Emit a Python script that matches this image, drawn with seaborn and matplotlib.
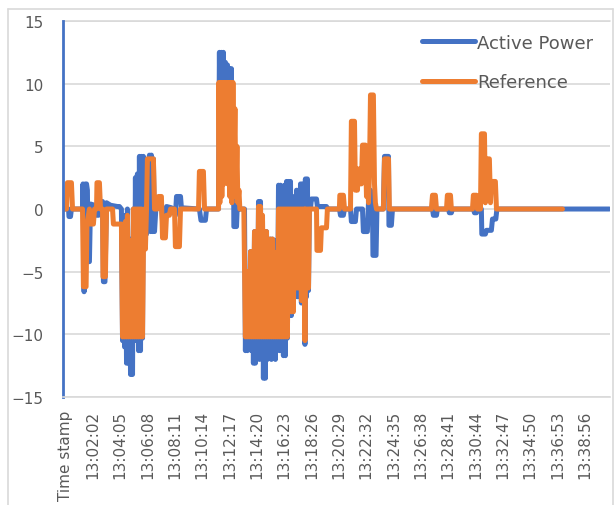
import numpy as np
import pandas as pd
import matplotlib
matplotlib.use("Agg")
import matplotlib.pyplot as plt
import matplotlib.transforms as mtransforms
from matplotlib.lines import Line2D
import seaborn as sns

# ---------------------------------------------------------------------------
# data: sample index (1 sample per second, category 0 = header row)
# ---------------------------------------------------------------------------
tick_labels = ["Time stamp", "13:02:02", "13:04:05", "13:06:08", "13:08:11",
               "13:10:14", "13:12:17", "13:14:20", "13:16:23", "13:18:26",
               "13:20:29", "13:22:32", "13:24:35", "13:26:38", "13:28:41",
               "13:30:44", "13:32:47", "13:34:50", "13:36:53", "13:38:56"]
tick_step = 123

ref_t = [0, 16, 20, 38, 43, 88, 92, 104, 108, 119, 124, 137, 142, 151, 153, 164,
         169, 178, 180, 191, 196, 223, 227, 263,
         268, 272, 277, 281, 286, 290, 295, 299, 304, 308, 313, 317, 322, 326,
         331, 335, 340, 344, 349, 353, 358, 362, 367, 371, 376, 380, 407, 412,
         425, 430, 443, 448, 461, 466, 479, 484, 502, 506, 524, 529, 610, 614,
         632, 637, 700,
         702, 706, 711, 715, 720, 724, 729, 733, 738, 742, 747, 751, 756, 760,
         765, 769, 774, 778, 783, 787, 792, 796, 814,
         821, 826, 830, 835, 839, 844, 848, 853, 857, 862, 866, 871, 875, 880,
         884, 889, 893, 898, 902, 907, 911, 916, 920, 925, 929, 934, 938, 943,
         947, 952, 956, 961, 965, 970, 974, 979, 983, 988, 992, 997, 1001, 1006,
         1010, 1015, 1019, 1024, 1028, 1033, 1037, 1042, 1046, 1051, 1055, 1060,
         1064, 1069, 1073, 1078, 1082, 1087, 1089, 1091, 1096, 1100, 1105, 1109,
         1141, 1143, 1159, 1163, 1186, 1190, 1244, 1246, 1262, 1267,
         1294, 1298, 1312, 1316, 1321, 1325, 1330, 1334, 1339, 1343, 1348, 1361,
         1366, 1370, 1375, 1379, 1384, 1397, 1402, 1406, 1411,
         1442, 1447, 1465, 1469, 1658, 1663, 1676, 1681, 1726, 1730, 1744, 1748,
         1843, 1847, 1861, 1865, 1879, 1883, 1897, 1901, 1906, 1919, 1924, 1928,
         1946, 1951, 2248]
ref_v = [0, 0, 2.1, 2.1, 0, 0, -6.2, -6.2, -1.2, 0, -1.2, -1.2, 0, 0, 2.1, 2.1,
         0, 0, -5.4, -5.4, 0, 0, -1.2, -1.2,
         -10.2, -1.5, -10.2, -1.0, -10.2, -0.5, -10.2, -3.0, -10.2, -2.5, -10.2, 0, -10.2, 0,
         -10.2, 0, -10.2, 0, -10.2, 0, -10.2, -3.2, 0, -3.2, 0, 4.0, 4.0, 0,
         0, 1.0, 1.0, -2.3, -2.3, -0.5, -0.5, 0, 0, -3.0, -3.0, 0, 0, 3.0,
         3.0, 0, 0,
         10.1, 0.5, 10.1, 1.0, 10.1, 2.0, 10.1, 3.0, 10.1, 2.0, 10.1, 1.0, 10.1, 0.5,
         10.1, 3.0, 8.0, 1.0, 5.0, 0.5, 1.5, 0, 0,
         -10.2, -5.0, -10.2, -5.0, -10.2, -3.4, -10.2, -3.4, -10.2, -1.8, -10.2, -1.8, -10.2, 0.2,
         -10.2, 0.2, -10.2, -0.5, -10.2, -1.8, -10.2, -1.8, -10.2, -2.4, -10.2, -2.4, -10.2, -2.4,
         -10.2, -3.5, -10.2, -3.5, -10.2, 0, -10.2, 0, -10.2, 0, -10.2, 0, -10.2, 0,
         -10.2, 0, -8.2, 0, -8.2, 0, -8.2, 0, -6.3, 0, -6.3, 0,
         -6.3, 0, -7.3, 0, -7.3, 0, -10.5, 0, -6.3, 0, -6.3, 0,
         0, -3.3, -3.3, -1.5, -1.5, 0, 0, 1.1, 1.1, 0,
         0, 7.0, 7.0, 1.5, 3.2, 1.5, 3.2, 2.0, 3.2, 2.0, 5.1, 5.1,
         1.0, 3.0, 0.5, 2.5, 9.1, 9.1, 2.0, 0.5, 0,
         0, 4.0, 4.0, 0, 0, 1.1, 1.1, 0, 0, 1.1, 1.1, 0,
         0, 1.1, 1.1, 0, 0, 6.0, 6.0, 0.5, 4.0, 4.0, 0.5, 2.2,
         2.2, 0, 0]

ap_t = [0, 25, 27, 34, 38, 88, 90, 95, 101, 106, 110, 113, 119, 124, 142, 151,
        160, 164, 178, 182, 189, 196, 214, 245, 254, 263,
        268, 272, 277, 281, 286, 290, 295, 299, 304, 308, 313, 317, 322, 326,
        331, 335, 340, 344, 349, 353, 358, 362, 367, 371, 376, 380, 389, 394,
        398, 403, 407, 412, 419, 434, 443, 448, 461, 466, 488, 506, 511, 529,
        533, 614, 621, 641, 646, 700,
        704, 709, 713, 718, 722, 727, 731, 736, 740, 745, 749, 754, 758, 763,
        767, 769, 781, 785, 794, 817,
        821, 826, 830, 835, 839, 844, 848, 853, 857, 862, 866, 871, 875, 880,
        884, 889, 893, 898, 902, 907, 911, 916, 920, 925, 929, 934, 938, 943,
        947, 952, 956, 961, 965, 970, 974, 979, 983, 988, 992, 997, 1001, 1006,
        1010, 1015, 1019, 1024, 1028, 1033, 1037, 1042, 1046, 1051, 1055, 1060,
        1064, 1069, 1073, 1078, 1082, 1087, 1089, 1091, 1096, 1100, 1105, 1109,
        1114, 1118, 1141, 1145, 1186, 1190, 1244, 1249, 1262, 1267,
        1294, 1298, 1316, 1321, 1348, 1352, 1370, 1375, 1384, 1393, 1395, 1409,
        1413, 1442, 1447, 1465, 1467, 1478, 1483, 1663, 1667, 1681, 1685,
        1735, 1739, 1748, 1753, 1847, 1852, 1861, 1865, 1883, 1885, 1901, 1906,
        1928, 1933, 1948, 1953, 2459]
ap_v = [0, 0, -0.6, -0.6, 0, 0, 2.0, -6.6, 2.0, 2.0, 1.5, -4.2, -4.2, 0.4, 0.3, -0.5,
        -0.5, 0.6, 0.6, -5.8, -5.8, 0.5, 0.3, 0.2, 0.2, 0,
        -10.5, -1.0, -11.0, -0.5, -12.3, 0, -12.3, -2.4, -13.2, -2.4, -13.2, 0, -10.5, 2.5,
        -10.3, 2.8, -11.3, 4.2, -11.3, 4.2, -10.3, 4.2, -3.0, 0.5, -2.0, 1.0, 4.3, -1.8,
        4.3, -1.8, 4.0, -1.8, 0.3, 0.5, 0.3, -1.0, -1.0, 0.2, 0.1, -0.5, 1.0, 1.0,
        0.1, 0, -0.9, -0.9, 0, 0,
        12.5, 1.0, 12.5, 2.0, 12.5, 2.2, 11.7, 2.2, 11.5, 2.0, 11.2, 1.0, 11.2, 0.5,
        7.0, -1.4, -1.4, 0.5, 0, 0,
        -11.3, -5.0, -11.3, -5.0, -11.0, -3.4, -11.3, -3.4, -12.3, -1.8, -12.3, -1.8, -11.0, 0.6,
        -12.0, 0.6, -11.5, -1.0, -13.5, -1.8, -13.5, -1.8, -12.0, -2.4, -11.5, -2.4, -12.0, -2.4,
        -11.0, -2.5, -12.0, -2.5, -10.8, 1.9, -11.3, 1.9, -10.5, 1.0, -11.7, 1.9, -11.7, 2.2,
        -10.3, 2.2, -8.5, 2.2, -8.5, 1.0, -8.0, 0.8, -7.0, 1.5, -7.0, 1.5,
        -6.5, 2.0, -7.5, 2.0, -7.5, 0.5, -10.8, 2.4, -7.0, 2.4, -6.5, 0.5,
        0, 0.8, 0.8, 0.2, 0.2, 0, 0, -0.5, -0.5, 0,
        0, -1.0, -1.0, 0, 0, -1.8, -1.8, 0.5, 1.5, 0, -3.7, -3.7,
        0, 0, 4.2, 4.2, -1.3, -1.3, 0, 0, -0.5, -0.5, 0,
        0, -0.3, -0.3, 0, 0, -0.3, -0.3, 0, 0, -2.0, -2.0, -1.7,
        -1.7, -0.8, -0.8, 0, 0]

# ---------------------------------------------------------------------------
# style
# ---------------------------------------------------------------------------
sns.set_theme(style="white")
plt.rcParams["font.family"] = ["DejaVu Sans"]
plt.rcParams["path.simplify"] = False   # keep the dense zig-zags solid

blue = "#4472C4"
orange = "#ED7D31"
grey_txt = "#595959"
grey_grid = "#D9D9D9"

df_ap = pd.DataFrame({"t": ap_t, "v": ap_v})
df_ref = pd.DataFrame({"t": ref_t, "v": ref_v})

fig = plt.figure(figsize=(6.15, 5.06), dpi=100)
ax = fig.add_axes([0.1024, 0.2134, 0.8895, 0.7431])

sns.lineplot(data=df_ap, x="t", y="v", ax=ax, color=blue, linewidth=3.6,
             estimator=None, sort=False)
sns.lineplot(data=df_ref, x="t", y="v", ax=ax, color=orange, linewidth=3.6,
             estimator=None, sort=False)

ax.set_xlim(0, 2462)
ax.set_ylim(-15, 15)
ax.set_yticks([-15, -10, -5, 0, 5, 10, 15])
ax.set_xticks(np.arange(len(tick_labels)) * tick_step)
ax.set_xticklabels(tick_labels, rotation=90)
ax.set_xlabel("")
ax.set_ylabel("")
ax.tick_params(axis="y", length=0, pad=14, labelsize=11, labelcolor=grey_txt)
ax.tick_params(axis="x", length=0, pad=9, labelsize=11, labelcolor=grey_txt)

# nudge the rotated labels a little to the right
shift = mtransforms.ScaledTranslation(2.5 / 100, 0, fig.dpi_scale_trans)
for lab in ax.get_xticklabels():
    lab.set_transform(lab.get_transform() + shift)

ax.grid(axis="y", color=grey_grid, linewidth=1.2)
ax.grid(axis="x", visible=False)
ax.set_axisbelow(True)
ax.axhline(15, color=grey_grid, linewidth=1.2, zorder=0, clip_on=False)
for side in ["top", "right"]:
    ax.spines[side].set_visible(False)
ax.spines["bottom"].set_color(grey_grid)
ax.spines["bottom"].set_linewidth(1.2)
ax.spines["left"].set_color(blue)
ax.spines["left"].set_linewidth(2)

handles = [Line2D([], [], color=blue, linewidth=3.6),
           Line2D([], [], color=orange, linewidth=3.6)]
leg = ax.legend(handles, ["Active Power", "Reference"], loc="upper left",
                bbox_to_anchor=(0.657, 0.966), frameon=False, fontsize=13,
                handlelength=2.9, handletextpad=0.15, labelspacing=1.2,
                borderpad=0, borderaxespad=0)
for txt in leg.get_texts():
    txt.set_color(grey_txt)

# chart frame like the spreadsheet chart area
fig.add_artist(Line2D([0.013, 0.013], [0.0, 0.981], transform=fig.transFigure,
                      color=grey_grid, linewidth=1.2))
fig.add_artist(Line2D([0.013, 0.996], [0.981, 0.981], transform=fig.transFigure,
                      color=grey_grid, linewidth=1.2))
fig.add_artist(Line2D([0.996, 0.996], [0.0, 0.981], transform=fig.transFigure,
                      color=grey_grid, linewidth=1.2))

fig.savefig("out.png", dpi=100)
